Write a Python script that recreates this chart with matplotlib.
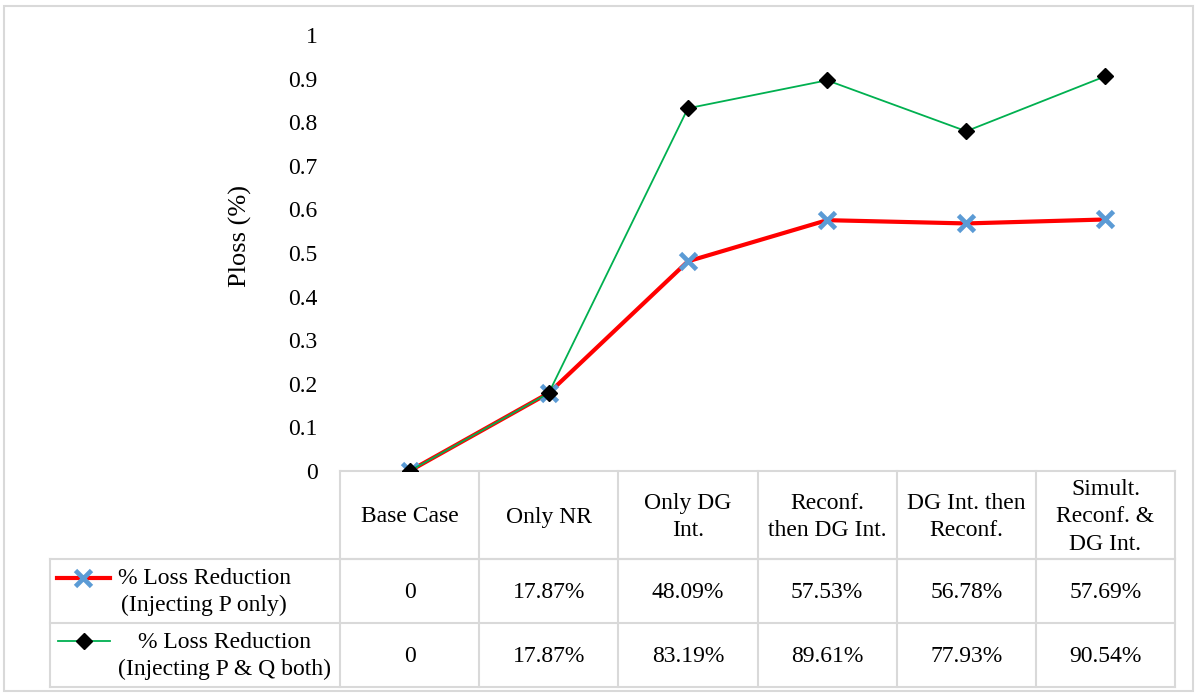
import numpy as np
import matplotlib
import matplotlib.pyplot as plt
from matplotlib.lines import Line2D
from matplotlib.transforms import blended_transform_factory

# Ploss reduction for each case, two injection modes
cases = ['Base Case', 'Only NR', 'Only DG\nInt.', 'Reconf.\nthen DG Int.',
         'DG Int. then\nReconf.', 'Simult.\nReconf. &\nDG Int.']
p_only = [0, 0.1787, 0.4809, 0.5753, 0.5678, 0.5769]
p_and_q = [0, 0.1787, 0.8319, 0.8961, 0.7793, 0.9054]
series_names = ['% Loss Reduction\n(Injecting P only)',
                '% Loss Reduction\n(Injecting P & Q both)']
yticks = [0, 0.1, 0.2, 0.3, 0.4, 0.5, 0.6, 0.7, 0.8, 0.9, 1]

matplotlib.rc('font', family=['Liberation Serif', 'DejaVu Serif'], size=17)
W, H = 1200, 698
fig = plt.figure(figsize=(W / 100, H / 100), dpi=100)

# overlay in pixel coordinates for the border and the data table
bg = fig.add_axes([0, 0, 1, 1])
bg.set_xlim(0, W)
bg.set_ylim(H, 0)
bg.axis('off')
grid_c = '#d9d9d9'
bg.add_patch(plt.Rectangle((4, 6), 1189, 685, fill=False, ec=grid_c, lw=1.5))

x0, x1 = 340, 1175
y_top, y_hdr, y_r1, y_r2 = 471, 559, 623, 687
x_leg = 50

ax = fig.add_axes([x0 / W, 1 - y_top / H, (x1 - x0) / W, (y_top - 35) / H])
xs = np.arange(len(cases))
ax.plot(xs, p_only, color='#ff0000', lw=3, marker='x', ms=12, mew=3.4,
        mec='#5b9bd5', zorder=3)
ax.plot(xs, p_and_q, color='#00b050', lw=1.3, marker='D', ms=8.5,
        mfc='black', mec='black', zorder=4)
ax.set_xlim(-0.5, len(cases) - 0.5)
ax.set_ylim(0, 1)
ax.set_yticks(yticks)
ax.set_yticklabels([f'{t:g}' for t in yticks])
ax.set_xticks([])
ax.tick_params(axis='y', length=0, pad=16)
for s in ax.spines.values():
    s.set_visible(False)
ax.set_ylabel('Ploss (%)', fontsize=19)
ax.yaxis.set_label_coords(-0.105, 0.54)
ax.patch.set_alpha(0)

# table lines
for y in (y_top, y_hdr):
    bg.plot([x0, x1], [y, y], color=grid_c, lw=1.5)
for y in (y_hdr, y_r1, y_r2):
    bg.plot([x_leg, x1], [y, y], color=grid_c, lw=1.5)
bg.plot([x_leg, x_leg], [y_hdr, y_r2], color=grid_c, lw=1.5)
col_w = (x1 - x0) / len(cases)
for i in range(len(cases) + 1):
    xv = x0 + i * col_w
    bg.plot([xv, xv], [y_top, y_r2], color=grid_c, lw=1.5)

# table text: column positions follow the chart's x scale
tr = blended_transform_factory(ax.transData, bg.transData)
for i, c in enumerate(cases):
    ax.text(i, (y_top + y_hdr) / 2 + 2, c, transform=tr, ha='center',
            va='center', linespacing=1.38, clip_on=False)
    for vals, yc in ((p_only, (y_hdr + y_r1) / 2), (p_and_q, (y_r1 + y_r2) / 2)):
        v = vals[i]
        s = '0' if v == 0 else f'{v * 100:.2f}%'
        ax.text(i, yc + 1, s, transform=tr, ha='center', va='center',
                clip_on=False)

# legend keys inside the table
bg.add_line(Line2D([57, 110], [578, 578], color='#ff0000', lw=3))
bg.plot([83], [578], marker='x', ms=12, mew=3.4, mec='#5b9bd5')
bg.text(204, (y_hdr + y_r1) / 2 + 1, series_names[0], ha='center',
        va='center', linespacing=1.33)
bg.add_line(Line2D([58, 110], [641, 641], color='#00b050', lw=1.3))
bg.plot([84], [641], marker='D', ms=8.5, mfc='black', mec='black')
bg.text(224, (y_r1 + y_r2) / 2 + 1, series_names[1], ha='center',
        va='center', linespacing=1.33)

plt.savefig('out.png', dpi=100)
